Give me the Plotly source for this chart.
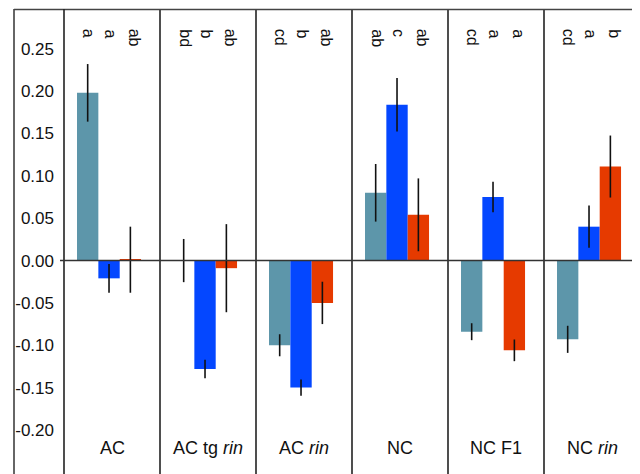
import plotly.graph_objects as go

groups = ["AC", "AC tg <i>rin</i>", "AC <i>rin</i>", "NC", "NC F1", "NC <i>rin</i>"]
series_names = ["S1", "S2", "S3"]
colors = ["#5d96aa", "#0447ff", "#e63a00"]

vals_s1 = [0.198, 0.000, -0.100, 0.080, -0.084, -0.093]
err_s1 = [0.034, 0.0255, 0.013, 0.034, 0.010, 0.016]
vals_s2 = [-0.021, -0.128, -0.150, 0.184, 0.075, 0.040]
err_s2 = [0.017, 0.011, 0.0095, 0.0315, 0.018, 0.025]
vals_s3 = [0.001, -0.009, -0.050, 0.054, -0.106, 0.111]
err_s3 = [0.039, 0.052, 0.025, 0.043, 0.0128, 0.0366]

letters_s1 = ["a", "bd", "cd", "ab", "cd", "cd"]
letters_s2 = ["a", "b", "b", "c", "a", "a"]
letters_s3 = ["ab", "ab", "ab", "ab", "a", "b"]

tick_vals = [0.25, 0.20, 0.15, 0.10, 0.05, 0.00, -0.05, -0.10, -0.15, -0.20]
tick_text = ["0.25", "0.20", "0.15", "0.10", "0.05", "0.00", "-0.05", "-0.10", "-0.15", "-0.20"]

y_range = [-0.252, 0.297]
shift = 0.031  # group offset inside each panel (fraction of panel)

# page body has an 8px margin; figure is sized to fill the window
W, H = 632, 466
ML, MR, MT, MB = 56, 0, 1, 0
pw = W - ML - MR
ph = H - MT - MB

FONT = "Liberation Sans, Arial, Helvetica, sans-serif"

fig = go.Figure()
all_vals = [vals_s1, vals_s2, vals_s3]
all_errs = [err_s1, err_s2, err_s3]
all_letters = [letters_s1, letters_s2, letters_s3]
for name, v, e, c in zip(series_names, all_vals, all_errs, colors):
    fig.add_trace(go.Bar(
        x=groups, y=v, name=name, marker=dict(color=c, line=dict(width=0)),
        error_y=dict(type="data", array=e, visible=True, color="#111111",
                     thickness=1.6, width=0),
        showlegend=False,
    ))

n = len(groups)
bar_w_frac = (1 - 0.333) / 3  # width of one bar in category units

shapes = []
for k in range(1, n):
    xv = -0.5 + shift + k
    shapes.append(dict(type="line", xref="x", yref="paper", x0=xv, x1=xv, y0=0, y1=1,
                       line=dict(color="#222222", width=1.6)))
left_px = 6
lx = (left_px - ML) / pw
shapes.append(dict(type="line", xref="paper", yref="paper", x0=lx, x1=lx, y0=0, y1=1,
                   line=dict(color="#333333", width=1.5)))
shapes.append(dict(type="line", xref="paper", yref="paper", x0=lx, x1=1, y0=0.999, y1=0.999,
                   line=dict(color="#444444", width=1.5)))
shapes.append(dict(type="line", xref="paper", yref="paper", x0=0.9985, x1=0.9985, y0=0, y1=1,
                   line=dict(color="#cccccc", width=1.2)))
shapes.append(dict(type="line", xref="paper", yref="paper", x0=0, x1=0, y0=0, y1=1,
                   line=dict(color="#222222", width=1.6)))
shapes.append(dict(type="line", xref="paper", yref="y", x0=(52 - ML) / pw, x1=0.997, y0=0, y1=0,
                   line=dict(color="#333333", width=1.6), layer="above"))

annotations = []
letter_y = 1 - (19 - MT) / ph
letter_xshift = [1, 1, 4]
for gi in range(n):
    for si in range(3):
        xv = gi + (si - 1) * bar_w_frac
        annotations.append(dict(
            x=xv, y=letter_y, xref="x", yref="paper", text=all_letters[si][gi],
            textangle=90, showarrow=False, yanchor="top", xanchor="center",
            xshift=letter_xshift[si],
            font=dict(family=FONT, size=16, color="#111111"),
        ))
label_y = 1 - (440 - MT) / ph
for gi in range(n):
    annotations.append(dict(
        x=gi + shift, y=label_y, xref="x", yref="paper", text=groups[gi],
        showarrow=False, yanchor="middle", xanchor="center",
        font=dict(family=FONT, size=18, color="#111111"),
    ))

fig.update_layout(
    width=W, height=H,
    margin=dict(l=ML, r=MR, t=MT, b=MB),
    paper_bgcolor="white", plot_bgcolor="white",
    barmode="group", bargap=0.333, bargroupgap=0,
    shapes=shapes, annotations=annotations,
    font=dict(family=FONT, color="#111111"),
)
fig.update_xaxes(range=[-0.5 + shift, n - 0.5 + shift], showticklabels=False,
                 showgrid=False, zeroline=False, showline=False, ticks="")
fig.update_yaxes(range=y_range, tickvals=tick_vals, ticktext=tick_text,
                 showgrid=False, zeroline=False, showline=False, ticks="",
                 ticklabelstandoff=9,
                 tickfont=dict(family=FONT, size=17, color="#111111"))

fig.write_html("out.html")
